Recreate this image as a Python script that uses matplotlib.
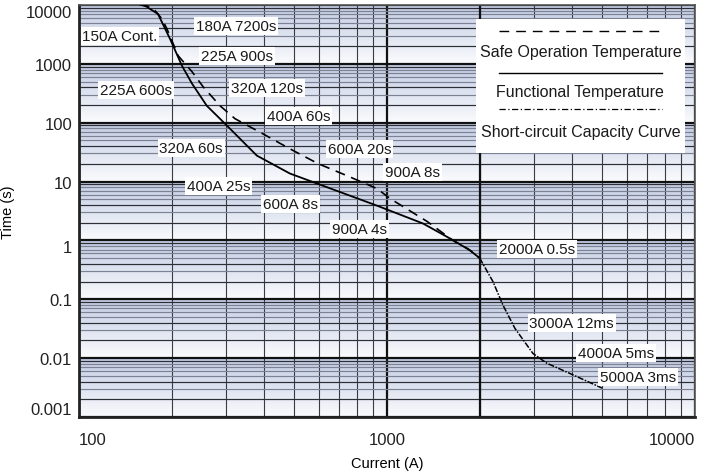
import numpy as np
import matplotlib
matplotlib.use("Agg")
import matplotlib.pyplot as plt
from matplotlib.ticker import LogLocator, FixedLocator, FixedFormatter, NullFormatter
from matplotlib.lines import Line2D
from matplotlib.colors import to_rgb

plt.rcParams['font.family'] = ['Liberation Sans', 'DejaVu Sans']

# Functional temperature (solid)
func_i = [150, 165, 180.5, 197.5, 216, 233, 260, 298, 378, 484, 593, 928, 1309, 1601, 1858, 2000]
func_t = [11000, 9500, 7030, 2655, 925, 458, 194, 96, 27.6, 13.7, 9.25, 3.9, 1.94, 1.08, 0.68, 0.5]

# Safe operation temperature (dashed)
safe_i = [158, 175, 186, 193, 210, 233, 253, 287, 321, 395, 484, 597, 741, 928, 1023, 1350, 1637, 1833, 2000]
safe_t = [11000, 8500, 5800, 3920, 1368, 731, 407, 194, 117, 65, 36, 20.2, 12.6, 7.6, 5.15, 2.1, 1.0, 0.72, 0.5]

# Short-circuit capacity curve (dash-dot)
sc_i = [2000, 2208, 2381, 2603, 2978, 3304, 4018, 4990]
sc_t = [0.5, 0.2, 0.079, 0.032, 0.012, 0.0082, 0.0052, 0.0031]

labels = ["150A Cont.", "180A 7200s", "225A 900s", "225A 600s", "320A 120s", "400A 60s",
          "320A 60s", "600A 20s", "400A 25s", "900A 8s", "600A 8s", "900A 4s",
          "2000A 0.5s", "3000A 12ms", "4000A 5ms", "5000A 3ms"]

y_ticks = [0.001, 0.01, 0.1, 1, 10, 100, 1000, 10000]
y_tick_labels = ["0.001", "0.01", "0.1", "1", "10", "100", "1000", "10000"]
x_ticks = [100, 1000, 10000]
x_tick_labels = ["100", "1000", "10000"]

legend_names = ["Safe Operation Temperature", "Functional Temperature", "Short-circuit Capacity Curve"]

fig = plt.figure(figsize=(7.15, 4.77), dpi=100)
ax = fig.add_axes([0.1105, 0.1237, 0.8615, 0.8637])
ax.set_xscale('log')
ax.set_yscale('log')
ax.set_xlim(100, 10000)
ax.set_ylim(0.001, 10000)

# gradient bands, one per decade: blue at top, white at bottom
n = 60
top = np.array(to_rgb('#c2cce3'))
bot = np.array(to_rgb('#fafbfd'))
f = np.linspace(0, 1, n)[:, None]
band = top * (1 - f) + bot * f
img = np.vstack([band] * 7)[:, None, :]
ax.imshow(img, extent=[0, 1, 0, 1], transform=ax.transAxes, aspect='auto', zorder=0, interpolation='bilinear')

# grid
ax.xaxis.set_minor_locator(LogLocator(base=10, subs=range(2, 10)))
ax.yaxis.set_minor_locator(LogLocator(base=10, subs=range(2, 10), numticks=20))
ax.grid(which='minor', axis='x', color='#3a3a42', lw=0.8, zorder=1)
ax.grid(which='minor', axis='y', color='#7c8193', lw=0.85, zorder=1)
for d in y_ticks[:-1]:
    for m in (2, 4, 9):
        ax.axhline(d * m, color='#2e2f36', lw=0.8, zorder=1)
ax.grid(which='major', color='#111111', lw=1.6, zorder=1)
ax.axvline(2000, color='#111111', lw=1.6, zorder=1)
ax.set_axisbelow(True)

ax.yaxis.set_major_locator(FixedLocator(y_ticks))
ax.yaxis.set_major_formatter(FixedFormatter(y_tick_labels))
ax.xaxis.set_major_locator(FixedLocator(x_ticks))
ax.xaxis.set_major_formatter(FixedFormatter(x_tick_labels))
ax.xaxis.set_minor_formatter(NullFormatter())
ax.yaxis.set_minor_formatter(NullFormatter())
ax.tick_params(which='both', length=0, labelsize=12, colors='#222222')
ax.tick_params(axis='x', pad=11)
ax.tick_params(axis='y', pad=5)
xl = ax.get_xticklabels()
xl[0].set_ha('left')
xl[-1].set_ha('right')
yl = ax.get_yticklabels()
yl[0].set_va('bottom')
yl[3].set_va('top')
yl[-1].set_va('top')

for s in ['left', 'bottom']:
    ax.spines[s].set_linewidth(2.0)
    ax.spines[s].set_color('#222222')
for s in ['top', 'right']:
    ax.spines[s].set_linewidth(1.2)
    ax.spines[s].set_color('#555555')

ax.set_xlabel("Current (A)", fontsize=10.5, labelpad=6)
ax.set_ylabel("Time (s)", fontsize=10.5, labelpad=8)

# curves
ax.plot(func_i, func_t, color='black', lw=1.3, zorder=3)
ax.plot(safe_i, safe_t, color='black', lw=1.2, dashes=(6, 4), zorder=3)
ax.plot(sc_i, sc_t, color='black', lw=1.1, dashes=(4, 1, 1, 1), zorder=3)

# labels (placed in axes fraction)
pos = [(0.0666, 0.925), (0.255, 0.949), (0.256, 0.876), (0.0925, 0.794), (0.305, 0.799),
       (0.357, 0.731), (0.182, 0.653), (0.456, 0.650), (0.227, 0.561), (0.541, 0.595),
       (0.343, 0.517), (0.455, 0.456), (0.744, 0.408), (0.800, 0.228), (0.872, 0.155),
       (0.907, 0.097)]
for txt, (px, py) in zip(labels, pos):
    ax.text(px, py, txt, transform=ax.transAxes, ha='center', va='center', fontsize=11,
            color='#1a1a1a', zorder=5,
            bbox=dict(boxstyle='square,pad=0.12', fc='white', ec='none'))

# legend box
ax.add_patch(plt.Rectangle((0.644, 0.641), 0.340, 0.325, transform=ax.transAxes,
                           fc='white', ec='none', zorder=6))
styles = [dict(dashes=(7, 5), lw=1.0), dict(lw=1.0), dict(dashes=(5, 2, 1, 2), lw=0.9)]
line_y = [0.937, 0.835, 0.748]
text_y = [0.888, 0.791, 0.692]
for name, st, ly, ty in zip(legend_names, styles, line_y, text_y):
    ax.add_line(Line2D([0.682, 0.946], [ly, ly], transform=ax.transAxes, color='black',
                       zorder=7, **st))
    ax.text(0.814, ty, name, transform=ax.transAxes, ha='center', va='center',
            fontsize=11.5, color='#1a1a1a', zorder=7)

plt.savefig('out.png', dpi=100)
